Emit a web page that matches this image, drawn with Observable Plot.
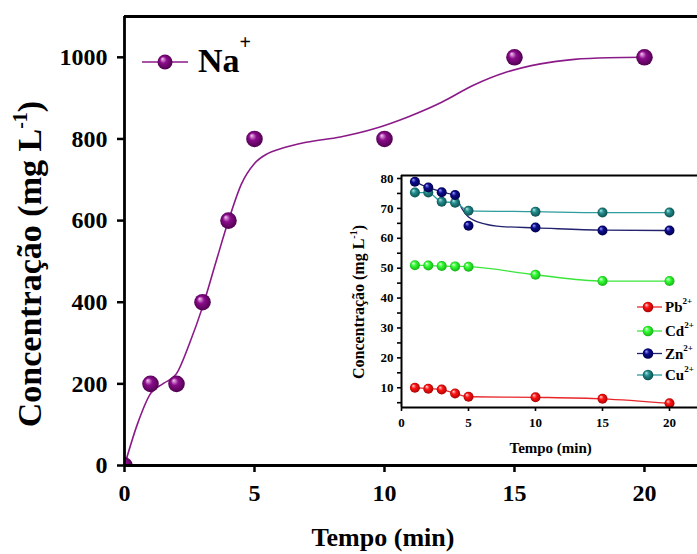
<!DOCTYPE html>
<html><head><meta charset="utf-8">
<script src="https://cdn.jsdelivr.net/npm/d3@7"></script>
<script src="https://cdn.jsdelivr.net/npm/@observablehq/plot@0.6"></script>
<style>
body{margin:0;background:#fff;}
#wrap{position:relative;width:697px;height:554px;overflow:hidden;background:#fff;}
#wrap svg{position:absolute;}
#wrap svg text, #wrap svg tspan{font-family:"Liberation Serif","Times New Roman",serif !important;font-weight:bold;fill:#000;}
#main g[aria-label^="x-axis"] line, #main g[aria-label^="x-axis"] path,
#main g[aria-label^="y-axis"] line, #main g[aria-label^="y-axis"] path{stroke-width:2.5px;}
#inset g[aria-label^="x-axis"] line, #inset g[aria-label^="x-axis"] path,
#inset g[aria-label^="y-axis"] line, #inset g[aria-label^="y-axis"] path{stroke-width:1.6px;}
</style></head><body><div id="wrap"></div>
<script>
// ---- Main chart data (Na+) ----
const timeNa = [0, 1, 2, 3, 4, 5, 10, 15, 20];
const na = [0, 200, 200, 400, 600, 800, 800, 1000, 1000];
// smooth fitted curve
const fitNaTime = [0, 0.5, 1, 1.5, 2, 2.5, 3, 3.5, 4, 4.5, 5, 5.5, 6, 7, 8.3, 9.6, 10.9, 12.2, 13.4, 14.7, 16, 17.3, 18.6, 20];
const fitNa = [0, 102, 176, 201, 225, 299, 388, 495, 600, 690, 740, 764, 776, 792, 805, 825, 854, 890, 931, 964, 984, 995, 999, 1000];
const mainXTicks = [0, 5, 10, 15, 20];
const mainYTicks = [0, 200, 400, 600, 800, 1000];

// ---- Inset data ----
const timeInset = [1, 2, 3, 4, 5, 10, 15, 20];
const pb = [10, 9.7, 9.4, 8.1, 7, 6.8, 6.3, 4.8];
const cd = [51, 50.9, 50.7, 50.6, 50.5, 47.8, 45.7, 45.7];
const zn = [78.9, 77, 75.4, 74.5, 64.2, 63.6, 62.6, 62.6];
const cu = [75.3, 75.3, 72.2, 71.9, 69.2, 68.9, 68.6, 68.6];
const fitZnTime = [1, 2, 3, 4, 4.5, 5, 6.2, 7.5, 10, 15, 20];
const fitZn = [78.9, 77, 75.5, 74.3, 70, 67.1, 64.8, 63.9, 63.5, 62.7, 62.6];
const insetXTicks = [0, 5, 10, 15, 20];
const insetYTicks = [5, 10, 15, 20, 25, 30, 35, 40, 45, 50, 55, 60, 65, 70, 75, 80];
const ions = ["Pb", "Cd", "Zn", "Cu"];

const colors = {
  Na: {hi: "#f6c8f4", base: "#8c0c8c", dark: "#480048", line: "#8b1a89"},
  Pb: {hi: "#ffd8d8", base: "#ff1414", dark: "#a00000", line: "#e8262a"},
  Cd: {hi: "#f0fff0", base: "#33ff33", dark: "#12a812", line: "#3be63b"},
  Zn: {hi: "#a0a0ff", base: "#0c0c90", dark: "#000040", line: "#22226e"},
  Cu: {hi: "#b0e8e8", base: "#238c8c", dark: "#0a4848", line: "#2e9c9c"}
};

const FONT = '"Liberation Serif","Times New Roman",serif';
const zip = (xs, ys) => xs.map((x, i) => ({t: x, v: ys[i]}));

function addGradients(svg, prefix) {
  const defs = d3.select(svg).insert("defs", ":first-child");
  for (const [k, c] of Object.entries(colors)) {
    const g = defs.append("radialGradient").attr("id", prefix + k)
      .attr("cx", "50%").attr("cy", "50%").attr("r", "55%").attr("fx", "32%").attr("fy", "28%");
    g.append("stop").attr("offset", "0%").attr("stop-color", c.hi);
    g.append("stop").attr("offset", "40%").attr("stop-color", c.base);
    g.append("stop").attr("offset", "100%").attr("stop-color", c.dark);
  }
}
function txt(sel, x, y, size, anchor) {
  return sel.append("text").attr("x", x).attr("y", y).attr("text-anchor", anchor)
    .attr("font-size", size).attr("font-weight", "bold").attr("font-family", FONT).attr("fill", "#000");
}

// ---- Main plot ----
const X0 = 0, X1 = 22.04, Y0 = 0, Y1 = 1100;
const main = Plot.plot({
  width: 697, height: 554,
  marginLeft: 124, marginRight: 0, marginTop: 16, marginBottom: 89,
  style: {background: "transparent", fontSize: "24px", fontFamily: FONT, fontWeight: "bold", overflow: "visible"},
  x: {domain: [X0, X1], ticks: mainXTicks, tickFormat: d => String(d), tickSize: 7, tickPadding: 11, label: null},
  y: {domain: [Y0, Y1], ticks: mainYTicks, tickFormat: d => String(d), tickSize: 7, tickPadding: 10, label: null},
  marks: [
    Plot.line(zip(fitNaTime, fitNa), {x: "t", y: "v", curve: "monotone-x", stroke: colors.Na.line, strokeWidth: 1.6}),
    Plot.dot(zip(timeNa, na), {x: "t", y: "v", r: 8.3, fill: "url(#mNa)", stroke: "none", clip: true}),
    Plot.ruleX([X0], {stroke: "#000", strokeWidth: 2.8}),
    Plot.ruleY([Y0, Y1], {stroke: "#000", strokeWidth: 2.8})
  ]
});
main.id = "main";
main.style.left = "0px"; main.style.top = "0px";
addGradients(main, "m");

const ms = d3.select(main);
const yl = txt(ms, 0, 0, 34, "middle").attr("transform", "translate(41,264) rotate(-90)");
yl.append("tspan").text("Concentração (mg L");
yl.append("tspan").attr("font-size", 20).attr("dy", -14).text("-1");
yl.append("tspan").attr("dy", 14).text(")");
txt(ms, 383, 546, 26, "middle").text("Tempo (min)");
// legend
const lg = ms.append("g");
lg.append("line").attr("x1", 142).attr("x2", 188).attr("y1", 62).attr("y2", 62).attr("stroke", colors.Na.line).attr("stroke-width", 1.6);
lg.append("circle").attr("cx", 165).attr("cy", 62).attr("r", 7.5).attr("fill", "url(#mNa)");
const lt = txt(lg, 198, 72, 34, "start");
lt.append("tspan").text("Na");
lt.append("tspan").attr("font-size", 20).attr("dy", -23).text("+");

// ---- Inset plot ----
const IX0 = 0, IX1 = 22.09, IY0 = 3.4, IY1 = 81;
const series = {Pb: pb, Cd: cd, Zn: zn, Cu: cu};
const insetMarks = [];
for (const k of ions) {
  const lineData = k === "Zn" ? zip(fitZnTime, fitZn) : zip(timeInset, series[k]);
  insetMarks.push(Plot.line(lineData, {x: "t", y: "v", curve: "monotone-x", stroke: colors[k].line, strokeWidth: 1.3}));
}
for (const k of ["Pb", "Cd", "Cu", "Zn"]) {
  insetMarks.push(Plot.dot(zip(timeInset, series[k]), {x: "t", y: "v", r: 5, fill: `url(#i${k})`, stroke: "none"}));
}
insetMarks.push(Plot.ruleX([IX0], {stroke: "#000", strokeWidth: 2}));
insetMarks.push(Plot.ruleY([IY0, IY1], {stroke: "#000", strokeWidth: 2}));

const inset = Plot.plot({
  width: 367, height: 300,
  marginLeft: 71, marginRight: 0, marginTop: 15, marginBottom: 53,
  style: {background: "transparent", fontSize: "13px", fontFamily: FONT, fontWeight: "bold", overflow: "visible"},
  x: {domain: [IX0, IX1], ticks: insetXTicks, tickFormat: d => String(d), tickSize: 4, tickPadding: 6, label: null},
  y: {domain: [IY0, IY1], ticks: insetYTicks, tickFormat: d => d % 10 === 0 ? String(d) : "", tickSize: 4, tickPadding: 4, label: null},
  marks: insetMarks
});
inset.id = "inset";
inset.style.left = "330px"; inset.style.top = "160px";
addGradients(inset, "i");

const is = d3.select(inset);
const iyl = txt(is, 0, 0, 16, "middle").attr("transform", "translate(33.5,142) rotate(-90)");
iyl.append("tspan").text("Concentração (mg L");
iyl.append("tspan").attr("font-size", 10).attr("dy", -7).text("-1");
iyl.append("tspan").attr("dy", 7).text(")");
txt(is, 220.7, 293, 15, "middle").text("Tempo (min)");
const rowY = [147, 171, 193.5, 215];
ions.forEach((k, i) => {
  const g = is.append("g");
  g.append("line").attr("x1", 307).attr("x2", 332).attr("y1", rowY[i]).attr("y2", rowY[i]).attr("stroke", colors[k].line).attr("stroke-width", 1.3);
  g.append("circle").attr("cx", 318).attr("cy", rowY[i]).attr("r", 5.3).attr("fill", `url(#i${k})`);
  const t = txt(g, 335, rowY[i] + 5, 15, "start");
  t.append("tspan").text(k);
  t.append("tspan").attr("font-size", 9).attr("dy", -8).text("2+");
});

const wrap = document.getElementById("wrap");
wrap.appendChild(main);
wrap.appendChild(inset);
</script>
</body></html>
